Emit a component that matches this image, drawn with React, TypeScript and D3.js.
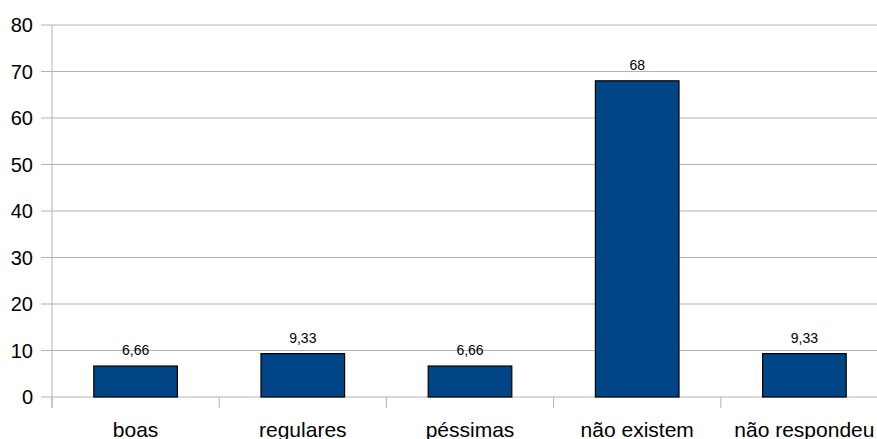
import React from "react";
import * as d3 from "d3";

const categories = ["boas", "regulares", "péssimas", "não existem", "não respondeu"];
const values = [6.66, 9.33, 6.66, 68, 9.33];
const valueLabels = ["6,66", "9,33", "6,66", "68", "9,33"];
const yTicks = [0, 10, 20, 30, 40, 50, 60, 70, 80];

export default function App() {
  const W = 877, H = 439;
  const left = 52, right = 888, top = 25, bottom = 397;
  const x = d3.scaleBand<string>().domain(categories).range([left, right]).paddingInner(0).paddingOuter(0);
  const y = d3.scaleLinear().domain([0, 80]).range([bottom, top]);
  const bw = x.bandwidth();
  const barW = bw * 0.5;
  const font = "'Liberation Sans', Arial, sans-serif";
  const grid = "#b3b3b3";
  return (
    <svg width={W} height={H} style={{ position: "absolute", left: 0, top: 0, display: "block" }}>
      <rect x={0} y={0} width={W} height={H} fill="#fff" />
      {yTicks.map((t) => (
        <g key={t}>
          <line x1={41} x2={right} y1={y(t)} y2={y(t)} stroke={grid} strokeWidth={1} />
          <text x={33} y={y(t)} dy="0.36em" textAnchor="end" fontFamily={font} fontSize={20} fill="#000">
            {t}
          </text>
        </g>
      ))}
      <line x1={left} x2={left} y1={top} y2={bottom + 11} stroke={grid} strokeWidth={1} />
      {categories.map((c, i) => (
        <line key={"t" + i} x1={x(c)!} x2={x(c)!} y1={bottom} y2={bottom + 11} stroke={grid} strokeWidth={1} />
      ))}
      {categories.map((c, i) => {
        const cx = x(c)! + bw / 2;
        return (
          <g key={c}>
            <rect x={cx - barW / 2} y={y(values[i])} width={barW} height={bottom - y(values[i])} fill="#004586" stroke="#000" strokeWidth={1.2} />
            <text x={cx} y={y(values[i]) - 11} textAnchor="middle" fontFamily={font} fontSize={14} fill="#000">
              {valueLabels[i]}
            </text>
            <text x={cx} y={437} textAnchor="middle" fontFamily={font} fontSize={21} fill="#000">
              {c}
            </text>
          </g>
        );
      })}
    </svg>
  );
}
